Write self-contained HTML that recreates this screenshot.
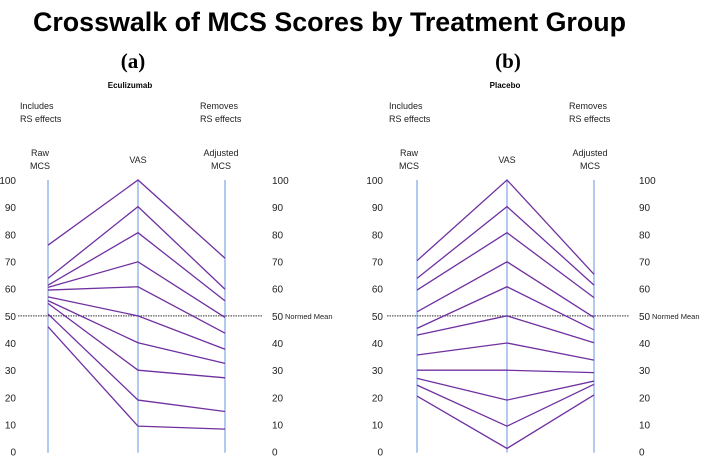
<!DOCTYPE html>
<html><head><meta charset="utf-8"><style>
body{margin:0;background:#fff;width:709px;height:458px;overflow:hidden}
svg{display:block;font-family:"Liberation Sans",sans-serif}
</style></head><body>
<svg id="c" width="709" height="458">
<text x="33" y="31" font-size="27" font-weight="bold" fill="#000" textLength="593" lengthAdjust="spacingAndGlyphs">Crosswalk of MCS Scores by Treatment Group</text>
</svg>
<script>
const ticks=[0,10,20,30,40,50,60,70,80,90,100];
const ecuRaw=[76,63.8,61.3,60.5,59.5,57,55.6,54.6,50.7,46];
const ecuVas=[100,90.2,80.6,69.9,60.7,50,40.1,30,19,9.4];
const ecuAdj=[71.2,59.8,55.5,49.4,43.6,37.7,32.5,27.2,14.8,8.3];
const plaRaw=[70.3,63.8,59.5,51.5,45.4,42.9,35.6,30,27,24.5,20.5];
const plaVas=[100,90.2,80.6,69.9,60.7,50,40,30,19,9.4,1.2];
const plaAdj=[65.3,61.3,56.7,49.4,44.8,40.1,33.7,29.1,26,24.8,20.9];
const normedMean=50;
const svg=document.getElementById('c');
const NS='http://www.w3.org/2000/svg';
function y(v){return 451.7-v*2.717;}
function mk(tag,attrs,txt){const e=document.createElementNS(NS,tag);for(const k in attrs)e.setAttribute(k,attrs[k]);if(txt!==undefined)e.textContent=txt;svg.appendChild(e);return e;}
function panel(p){
  const [xr,xv,xa]=p.axes;
  let e=mk('text',{x:p.lx+3,y:68,'text-anchor':'middle','font-size':21,'font-weight':'bold','font-family':'"Liberation Serif",serif'},p.label);
  
  e=mk('text',{x:p.lx,y:88,'text-anchor':'middle','font-size':8,'font-weight':'bold'},p.group);
  
  const hd=[[xr-28,'Includes',109,'start'],[xr-28,'RS effects',122,'start'],[xa-25,'Removes',109,'start'],[xa-25,'RS effects',122,'start'],
    [xr-8,'Raw',156,'middle'],[xr-8,'MCS',169,'middle'],[xv,'VAS',163,'middle'],[xa-4,'Adjusted',156,'middle'],[xa-4,'MCS',169,'middle']];
  hd.forEach(h=>{const t=mk('text',{x:h[0],y:h[2],'text-anchor':h[3],'font-size':9,fill:'#222'},h[1]);
    });
  ticks.forEach(v=>{
    let t=mk('text',{x:p.tl,y:y(v)+4,'text-anchor':'end','font-size':10,fill:'#222'},v);
    
    t=mk('text',{x:p.tr,y:y(v)+4,'text-anchor':'start','font-size':10,fill:'#222'},v);
    
  });
  [xr,xv,xa].forEach(x=>{const l=mk('line',{x1:x,x2:x,y1:y(100),y2:y(0)+1,stroke:'#7fa6e8','stroke-width':1.2});
    });
  const d=mk('line',{x1:p.d1,x2:p.d2,y1:y(normedMean),y2:y(normedMean),stroke:'#333','stroke-width':1,'stroke-dasharray':'1.5,1'});
  
  const nm=mk('text',{x:p.tr+13,y:y(normedMean)+3,'font-size':7.5,fill:'#222'},'Normed Mean');
  
  for(let i=0;i<p.raw.length;i++){
    const pl=mk('polyline',{points:`${xr},${y(p.raw[i])} ${xv},${y(p.vas[i])} ${xa},${y(p.adj[i])}`,fill:'none',stroke:'#7030a0','stroke-width':1.3});
    
  }
}
panel({label:'(a)',group:'Eculizumab',lx:130,axes:[48,138,225],tl:16,tr:272,d1:18,d2:262,raw:ecuRaw,vas:ecuVas,adj:ecuAdj});
panel({label:'(b)',group:'Placebo',lx:505,axes:[417,507,594],tl:383,tr:639,d1:387,d2:629,raw:plaRaw,vas:plaVas,adj:plaAdj});
</script>
</body></html>
